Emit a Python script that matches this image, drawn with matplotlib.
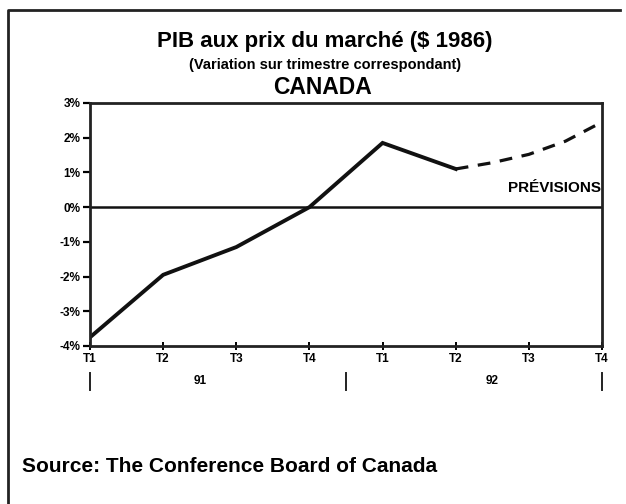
import matplotlib
matplotlib.use('Agg')
import matplotlib.pyplot as plt

# quarters T1-91 .. T4-92
quarters = ['T1', 'T2', 'T3', 'T4', 'T1', 'T2', 'T3', 'T4']
actual = [-3.75, -1.95, -1.15, 0.0, 1.85, 1.1]
forecast = [1.1, 1.28, 1.52, 1.9, 2.45]
forecast_x = [5, 5.5, 6, 6.5, 7]
years = ['91', '92']
yticks = [3, 2, 1, 0, -1, -2, -3, -4]

plt.rcParams['font.family'] = ['Liberation Sans', 'DejaVu Sans']
plt.rcParams['font.weight'] = 'bold'

W, H = 626, 504
fig = plt.figure(figsize=(W / 100, H / 100), dpi=100)

# scanned frame: only left and top edges show
fig.add_artist(plt.Line2D([8 / W, 8 / W, 620 / W], [0, 1 - 10 / H, 1 - 10 / H],
                          transform=fig.transFigure, color='#222222', lw=2))

ax = fig.add_axes([90 / W, 1 - 346 / H, 512 / W, 243 / H])

x_act = list(range(len(actual)))
ax.plot(x_act, actual, color='#111111', lw=2.8, solid_joinstyle='miter')
ax.plot(forecast_x, forecast, color='#111111', lw=2.3, ls=(0, (4, 3)))
ax.axhline(0, color='#111111', lw=1.8)

ax.set_xlim(0, 7)
ax.set_ylim(-4, 3)
ax.set_yticks(yticks)
ax.set_yticklabels(['%d%%' % v for v in yticks], fontsize=8.5, fontweight='heavy')
ax.set_xticks(range(len(quarters)))
ax.set_xticklabels(quarters, fontsize=8.5, fontweight='heavy')
ax.tick_params(axis='y', direction='out', length=5, width=1.6, pad=2)
ax.tick_params(axis='x', direction='inout', length=6, width=1.4, pad=2)
for sp in ax.spines.values():
    sp.set_linewidth(2)
    sp.set_color('#222222')

ax.text(6.98, 0.55, 'PRÉVISIONS', ha='right', va='center', fontsize=11,
        fontweight='heavy')

# year labels and separators under the axis
trans = ax.get_xaxis_transform()
for xs in [0, 3.5, 7]:
    ax.plot([xs, xs], [-0.11, -0.18], transform=trans, color='#222222',
            lw=1.4, clip_on=False)
ax.text(1.5, -0.145, years[0], transform=trans, ha='center', va='center',
        fontsize=8.5, fontweight='heavy')
ax.text(5.5, -0.145, years[1], transform=trans, ha='center', va='center',
        fontsize=8.5, fontweight='heavy')

fig.text(325 / W, 1 - 42 / H, 'PIB aux prix du marché ($ 1986)', ha='center',
         va='center', fontsize=16, fontweight='heavy')
fig.text(325 / W, 1 - 65 / H, '(Variation sur trimestre correspondant)',
         ha='center', va='center', fontsize=10.5, fontweight='heavy')
fig.text(322 / W, 1 - 88 / H, 'CANADA', ha='center', va='center',
         fontsize=16.5, fontweight='heavy')
fig.text(22 / W, 1 - 466 / H, 'Source: The Conference Board of Canada',
         ha='left', va='center', fontsize=15, fontweight='heavy')

fig.savefig('out.png', dpi=100)
